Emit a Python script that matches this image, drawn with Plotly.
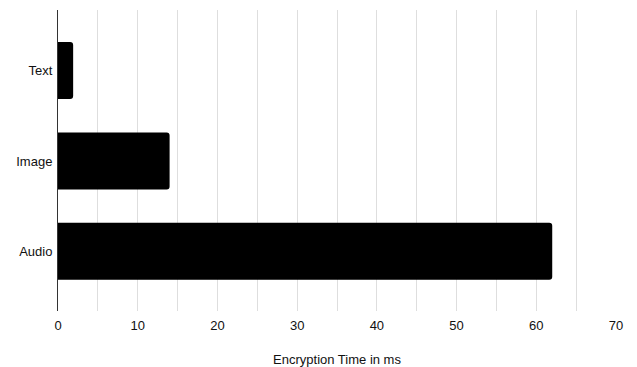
import plotly.graph_objects as go

categories = ["Text", "Image", "Audio"]
values = [1.9, 14, 62]
x_title = "Encryption Time in ms"

fig = go.Figure(go.Bar(
    x=values, y=categories, orientation="h",
    marker=dict(color="#000000", line=dict(width=0)),
    width=0.63,
))
fig.update_layout(
    width=637, height=367,
    margin=dict(l=57.5, r=21, t=10, b=56),
    paper_bgcolor="white", plot_bgcolor="white",
    font=dict(family="Liberation Sans, Arial, sans-serif", size=13, color="#111111"),
    showlegend=False,
    barcornerradius=3,
)
fig.update_xaxes(
    range=[0, 70], dtick=10, tick0=0,
    showgrid=True, gridcolor="#dedede", gridwidth=1,
    minor=dict(dtick=5, showgrid=True, gridcolor="#dedede", gridwidth=1),
    zeroline=False, showline=False, ticks="",
    ticklabelstandoff=5, automargin=False,
    title=dict(text=x_title, standoff=32, font=dict(size=13)),
)
fig.update_yaxes(
    type="category", categoryarray=categories, categoryorder="array",
    range=[2.66, -0.67],
    showgrid=False, zeroline=False,
    showline=True, linecolor="#333333", linewidth=1,
    ticks="", ticklabelstandoff=2, automargin=False,
)
fig.write_html("out.html", config={"displayModeBar": False},
               post_script="document.body.style.margin='0';document.body.style.padding='0';")
